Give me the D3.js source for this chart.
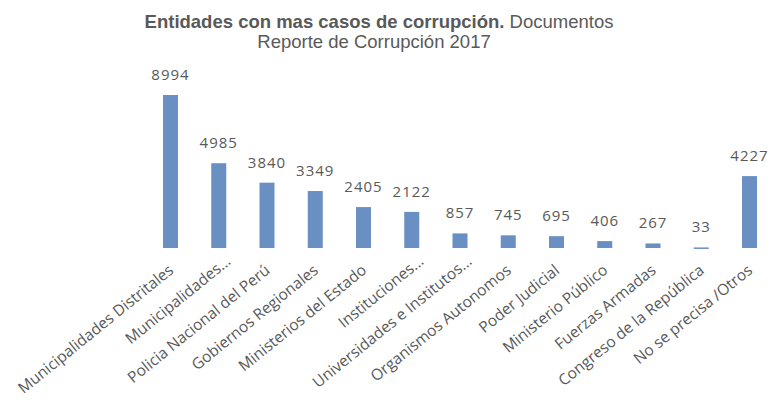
<!DOCTYPE html>
<meta charset="utf-8">
<style>
body { margin: 0; background: #fff; }
.title { font-family: "Liberation Sans", Arial, sans-serif; fill: #595959; }
.value { font-family: "Open Sans", sans-serif; font-size: 15px; fill: #595959; }
.cat { font-family: "Open Sans", sans-serif; font-size: 15.5px; fill: #595959; }
</style>
<svg width="770" height="409"></svg>
<script src="https://d3js.org/d3.v7.min.js"></script>
<script>

var categories = [
  "Municipalidades Distritales",
  "Municipalidades...",
  "Policia Nacional del Perú",
  "Gobiernos Regionales",
  "Ministerios del Estado",
  "Instituciones...",
  "Universidades e Institutos...",
  "Organismos Autonomos",
  "Poder Judicial",
  "Ministerio Público",
  "Fuerzas Armadas",
  "Congreso de la República",
  "No se precisa /Otros"
];
var casos = [8994, 4985, 3840, 3349, 2405, 2122, 857, 745, 695, 406, 267, 33, 4227];

var svg = d3.select("svg"),
    baseY = 248,
    topY = 95,
    barWidth = 15;

var data = categories.map(function(c, i) { return {cat: c, value: casos[i]}; });

var x = d3.scalePoint()
    .domain(categories)
    .range([170.5, 749.5]);

var y = d3.scaleLinear()
    .domain([0, d3.max(casos)])
    .range([baseY, topY]);

// title
var title = svg.append("text")
    .attr("class", "title")
    .attr("text-anchor", "middle")
    .attr("x", 379)
    .attr("y", 28)
    .style("font-size", "18.5px");
title.append("tspan").style("font-weight", "bold").text("Entidades con mas casos de corrupción.");
title.append("tspan").text(" Documentos");

svg.append("text")
    .attr("class", "title")
    .attr("text-anchor", "middle")
    .attr("x", 374)
    .attr("y", 48)
    .style("font-size", "18.5px")
    .text("Reporte de Corrupción 2017");

// bars
svg.selectAll(".bar")
  .data(data)
  .enter().append("rect")
    .attr("class", "bar")
    .attr("x", function(d) { return x(d.cat) - barWidth / 2; })
    .attr("y", function(d) { return y(d.value); })
    .attr("width", barWidth)
    .attr("height", function(d) { return Math.max(1.5, baseY - y(d.value)); })
    .attr("fill", "#6a8fc2");

// value labels
svg.selectAll(".value")
  .data(data)
  .enter().append("text")
    .attr("class", "value")
    .attr("text-anchor", "middle")
    .attr("x", function(d) { return x(d.cat); })
    .attr("y", function(d) { return y(d.value) - 15; })
    .style("letter-spacing", "1px")
    .text(function(d) { return d.value; });

// category labels (truncated ones sit a bit higher, as in the original)
svg.selectAll(".cat")
  .data(data)
  .enter().append("text")
    .attr("class", "cat")
    .attr("text-anchor", "end")
    .attr("transform", function(d) {
      var cut = /\.\.\.$/.test(d.cat);
      var tx = x(d.cat) + (cut ? 13 : 4),
          ty = cut ? 263 : 272;
      return "translate(" + tx + "," + ty + ") rotate(-39)";
    })
    .text(function(d) { return d.cat; });

</script>
